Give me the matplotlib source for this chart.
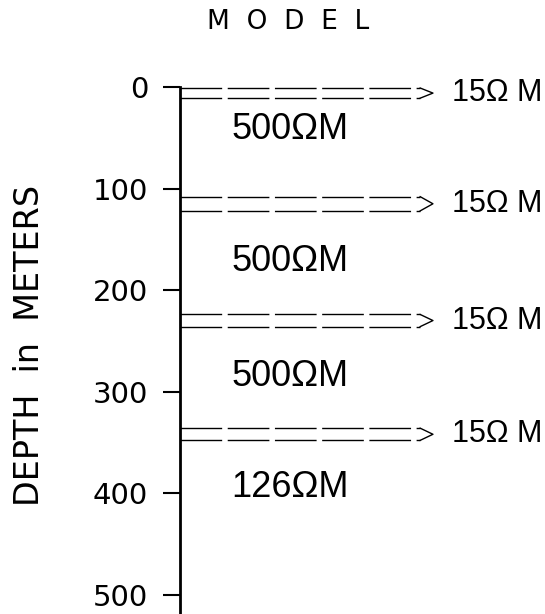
import matplotlib
matplotlib.use("Agg")
import matplotlib.pyplot as plt

# thin conductive layers (depth in meters)
thin_top = [1, 108, 224, 336]
thin_bot = [11, 122, 236, 348]
thin_rho = [15, 15, 15, 15]

# thick layers: label depth and resistivity
thick_depth = [42, 172, 285, 394]
thick_rho = [500, 500, 500, 126]

yticks = [0, 100, 200, 300, 400, 500]

fig = plt.figure(figsize=(5.45, 6.14), dpi=100)
ax = fig.add_axes([180/545, 0, 1 - 180/545, 1 - 87/614])
ax.set_xlim(0, 1)
ax.set_ylim(519, 0)

for s in ['top', 'right', 'bottom']:
	ax.spines[s].set_visible(False)
ax.spines['left'].set_linewidth(2)
ax.set_xticks([])
ax.set_yticks(yticks)
ax.set_yticklabels([str(t) for t in yticks], fontsize=21, family='DejaVu Sans')
ax.tick_params(axis='y', direction='out', length=12, width=1.5, pad=11)

x_end = 0.658
x_tip = 0.693
for i in range(len(thin_top)):
	top = thin_top[i]
	bot = thin_bot[i]
	mid = (top + bot) / 2.0
	ax.plot([0, x_end], [top, top], color='black', lw=1, ls=(0, (30, 4)))
	ax.plot([0, x_end], [bot, bot], color='black', lw=1, ls=(0, (30, 4)))
	ax.plot([x_end, x_tip, x_end], [top, mid, bot], color='black', lw=1)
	ax.text(0.745, mid, "%dΩ M" % thin_rho[i], fontsize=22, family='Liberation Sans',
		va='center', ha='left', clip_on=False)

for i in range(len(thick_depth)):
	ax.text(0.14, thick_depth[i], "%dΩM" % thick_rho[i], fontsize=26, family='Liberation Sans',
		va='center', ha='left')

fig.text(0.529, 0.964, "M  O  D  E  L", fontsize=19, ha='center', va='center')
fig.text(30/545, 1 - 345/614, "DEPTH  in  METERS", fontsize=24, rotation=90,
	ha='center', va='center')

fig.savefig("out.png", dpi=100)
